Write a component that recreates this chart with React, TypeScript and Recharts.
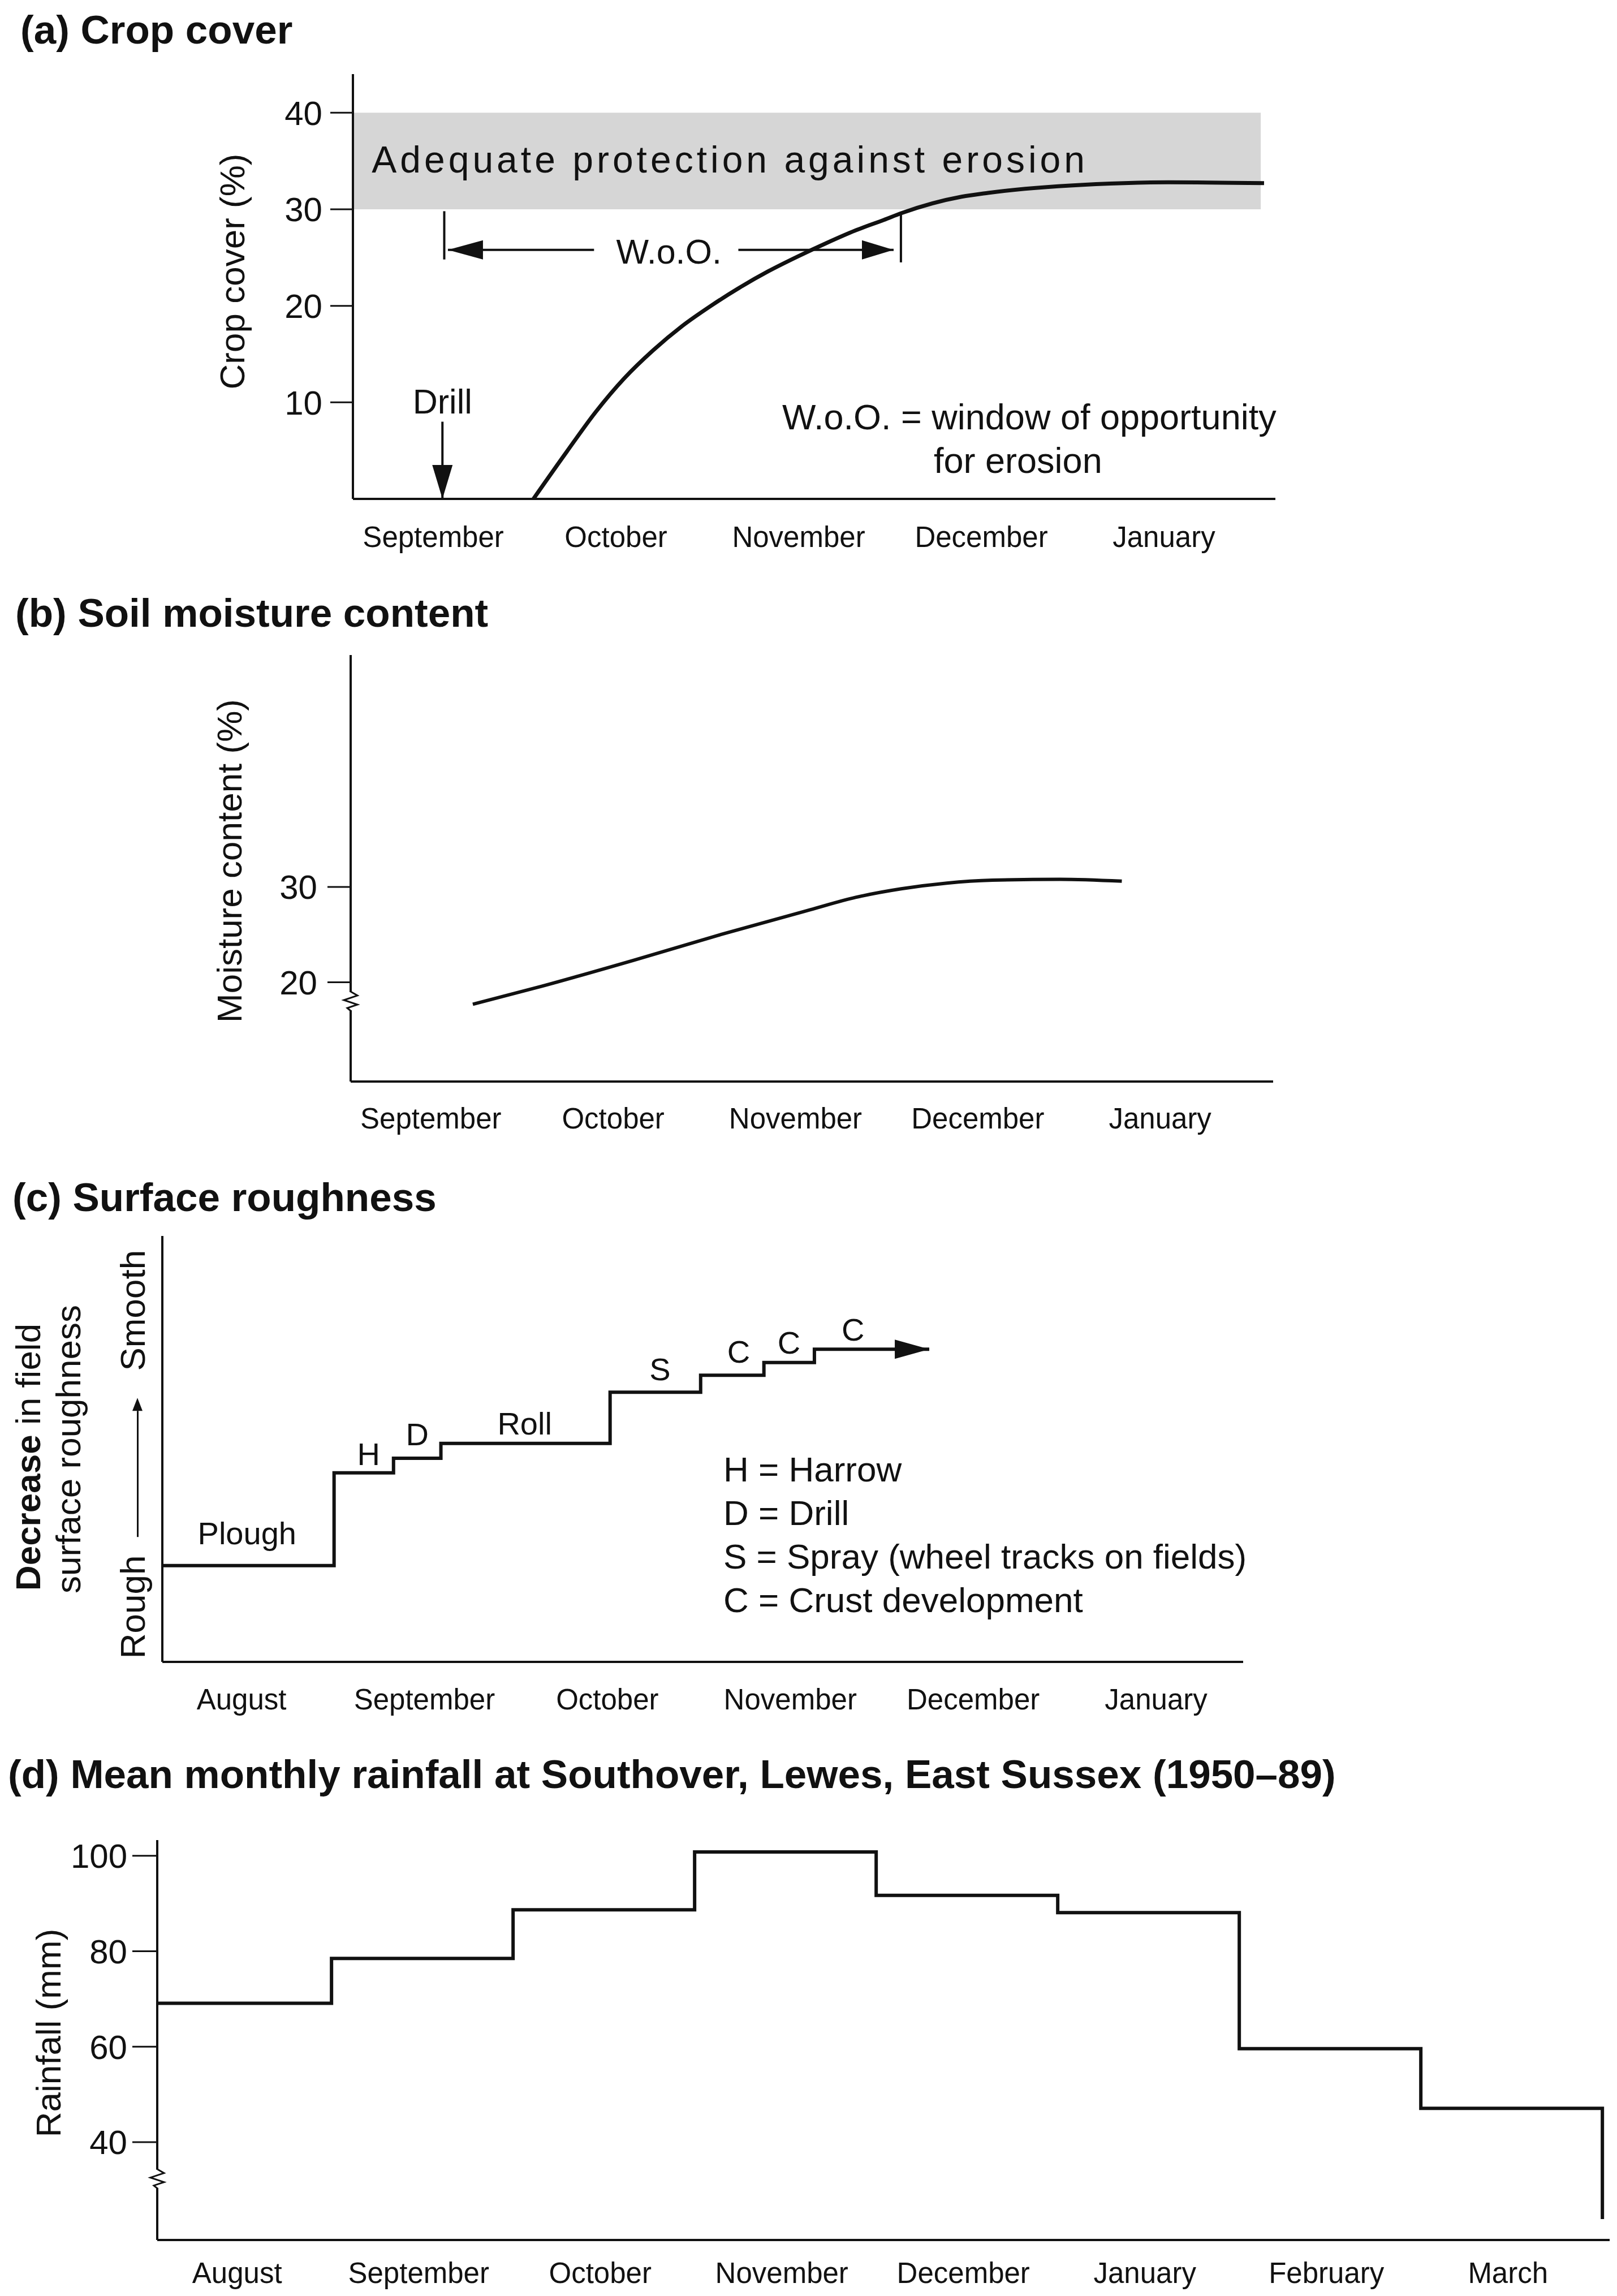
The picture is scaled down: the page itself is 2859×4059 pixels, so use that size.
import { ComposedChart, Line, ReferenceArea, Scatter, XAxis, YAxis } from "recharts";

const FONT = "'Liberation Sans', Arial, Helvetica, sans-serif";
const INK = "#111";
const AXIS = { stroke: INK, strokeWidth: 4 };
const MONTH_TICK = { fill: INK, fontSize: 51, fontFamily: FONT };

// (a) crop cover
const cropMonths = ["September", "October", "November", "December", "January"];
const cropTicks = [10, 20, 30, 40];
const cropCover = [
  { x: 1.048, y: 0 },
  { x: 1.231, y: 4.9 },
  { x: 1.389, y: 9.0 },
  { x: 1.546, y: 12.5 },
  { x: 1.704, y: 15.4 },
  { x: 1.862, y: 17.9 },
  { x: 2.02, y: 20.0 },
  { x: 2.178, y: 21.9 },
  { x: 2.336, y: 23.6 },
  { x: 2.494, y: 25.1 },
  { x: 2.652, y: 26.5 },
  { x: 2.81, y: 27.8 },
  { x: 2.967, y: 28.9 },
  { x: 3.063, y: 29.6 },
  { x: 3.392, y: 31.3 },
  { x: 3.537, y: 31.7 },
  { x: 4.128, y: 32.6 },
  { x: 4.525, y: 32.8 },
  { x: 5.048, y: 32.7 },
];
const drillArrow = [{ x: 0.55, y: 8 }, { x: 0.55, y: 0 }];
const wooLeftBar = [{ x: 0.56, y: 29.8 }, { x: 0.56, y: 24.8 }];
const wooRightBar = [{ x: 3.06, y: 29.6 }, { x: 3.06, y: 24.5 }];
const wooLeftArrow = [{ x: 1.38, y: 25.8 }, { x: 0.58, y: 25.8 }];
const wooRightArrow = [{ x: 2.17, y: 25.8 }, { x: 3.02, y: 25.8 }];
const bandNote = [{ x: 0.163, y: 33.8, text: "Adequate protection against erosion" }];
const cropNotesMid = [
  { x: 0.55, y: 8.85, text: "Drill" },
  { x: 1.79, y: 24.4, text: "W.o.O." },
];
const cropNotesLeft = [
  { x: 2.41, y: 7.2, text: "W.o.O. = window of opportunity" },
  { x: 3.24, y: 2.7, text: "for erosion" },
];

// (b) soil moisture
const moistMonths = ["September", "October", "November", "December", "January"];
const moistTicks = [17.9, 20, 30];
const moistBreak = 17.9;
const moisture = [
  { x: 0.73, y: 17.7 },
  { x: 1.11, y: 19.6 },
  { x: 1.61, y: 22.3 },
  { x: 2.09, y: 25.0 },
  { x: 2.58, y: 27.6 },
  { x: 2.83, y: 28.9 },
  { x: 3.08, y: 29.8 },
  { x: 3.33, y: 30.4 },
  { x: 3.58, y: 30.7 },
  { x: 3.95, y: 30.8 },
  { x: 4.29, y: 30.6 },
];

// (c) surface roughness
const roughMonths = ["August", "September", "October", "November", "December", "January"];
const roughness = [
  { x: 0.067, y: 22.6 },
  { x: 1.006, y: 44.4 },
  { x: 1.331, y: 47.8 },
  { x: 1.59, y: 51.3 },
  { x: 2.515, y: 63.3 },
  { x: 3.01, y: 67.3 },
  { x: 3.356, y: 70.3 },
  { x: 3.632, y: 73.4 },
  { x: 4.26, y: 73.4 },
];
const roughNotes = [
  { x: 0.53, y: 27.6, text: "Plough" },
  { x: 1.195, y: 46.2, text: "H" },
  { x: 1.461, y: 50.9, text: "D" },
  { x: 2.048, y: 53.4, text: "Roll" },
  { x: 2.788, y: 66.1, text: "S" },
  { x: 3.218, y: 70.3, text: "C" },
  { x: 3.493, y: 72.4, text: "C" },
  { x: 3.843, y: 75.4, text: "C" },
];
const roughKey = [
  "H = Harrow",
  "D = Drill",
  "S = Spray (wheel tracks on fields)",
  "C = Crust development",
];

// (d) rainfall
const rainMonths = ["August", "September", "October", "November", "December", "January", "February", "March"];
const rainTicks = [32.1, 40, 60, 80, 100];
const rainBreak = 32.1;
const rainfall = [
  { x: 0.04, y: 69.1 },
  { x: 1, y: 78.5 },
  { x: 2, y: 88.7 },
  { x: 3, y: 100.8 },
  { x: 4, y: 91.7 },
  { x: 5, y: 88.1 },
  { x: 6, y: 59.6 },
  { x: 7, y: 47.1 },
  { x: 8, y: 47.1 },
  { x: 8, y: 23.9 },
];

// y tick: short dash + number, or the axis break zigzag
const valueTick = (len: number, gap: number, breakAt?: number) => (p: any) => {
  const ax = p.x + len + gap;
  const y = p.y;
  if (p.payload.value === breakAt) {
    return (
      <g>
        <rect x={ax - 5} y={y - 18} width={10} height={32} fill="#fff" />
        <polyline
          points={`${ax},${y - 19} ${ax + 12},${y - 12} ${ax - 12},${y - 4} ${ax + 12},${y + 4} ${ax - 6},${y + 10} ${ax},${y + 15}`}
          fill="none"
          stroke={INK}
          strokeWidth={3}
        />
      </g>
    );
  }
  return (
    <g>
      <line x1={ax - len} x2={ax} y1={y} y2={y} stroke={INK} strokeWidth={3} />
      <text x={p.x} y={y} dy="0.355em" textAnchor="end" fontSize={60} fontFamily={FONT} fill={INK}>
        {p.payload.value}
      </text>
    </g>
  );
};

const arrowEnd = (dir: string, last: number, len: number, half: number) => (p: any) => {
  if (p.index !== last) return <g key={p.index} />;
  const { cx, cy } = p;
  let pts = "";
  if (dir === "down") pts = `${cx},${cy} ${cx - half},${cy - len} ${cx + half},${cy - len}`;
  if (dir === "left") pts = `${cx},${cy} ${cx + len},${cy - half} ${cx + len},${cy + half}`;
  if (dir === "right") pts = `${cx},${cy} ${cx - len},${cy - half} ${cx - len},${cy + half}`;
  return <polygon key={p.index} points={pts} fill={INK} />;
};

const note = (size: number, anchor: string, extra: any = {}) => (p: any) => (
  <text x={p.cx} y={p.cy} textAnchor={anchor} fontSize={size} fontFamily={FONT} fill={INK} {...extra}>
    {p.payload.text}
  </text>
);

function Title({ top, left, children }: any) {
  return (
    <div style={{ position: "absolute", top, left, fontSize: 71, fontWeight: 700, lineHeight: 1, whiteSpace: "nowrap" }}>
      {children}
    </div>
  );
}

function RotLabel({ x, y, children }: any) {
  return (
    <div
      style={{
        position: "absolute",
        left: x,
        top: y,
        transform: "translate(-50%,-50%) rotate(-90deg)",
        whiteSpace: "nowrap",
        fontSize: 62,
        lineHeight: 1,
        display: "flex",
        alignItems: "center",
      }}
    >
      {children}
    </div>
  );
}

export default function App() {
  return (
    <div
      style={{
        position: "absolute",
        left: 0,
        top: 0,
        width: 2859,
        height: 4059,
        background: "#fff",
        fontFamily: FONT,
        color: INK,
        overflow: "hidden",
      }}
    >
      {/* (a) */}
      <div style={{ position: "absolute", left: 0, top: 0 }}>
        <ComposedChart width={2859} height={1040} margin={{ top: 131, right: 604, bottom: 0, left: 0 }}>
          <XAxis
            type="number"
            dataKey="x"
            domain={[0.06, 5.11]}
            ticks={cropMonths.map((_, i) => i + 0.5)}
            tickFormatter={(v) => cropMonths[Math.floor(v)]}
            interval={0}
            tickLine={false}
            tickSize={0}
            tickMargin={49}
            height={158}
            axisLine={AXIS}
            tick={MONTH_TICK}
          />
          <YAxis
            type="number"
            domain={[0, 44]}
            ticks={cropTicks}
            interval={0}
            width={624}
            tickLine={false}
            tickSize={40}
            tickMargin={14}
            axisLine={AXIS}
            tick={valueTick(40, 14)}
          />
          <ReferenceArea x1={0.06} x2={5.03} y1={30} y2={40} fill="#d6d6d6" fillOpacity={1} stroke="none" />
          <Scatter data={bandNote} dataKey="y" shape={note(66, "start", { letterSpacing: 6 })} isAnimationActive={false} />
          <Line data={cropCover} dataKey="y" type="monotone" stroke={INK} strokeWidth={7} dot={false} activeDot={false} isAnimationActive={false} />
          <Line data={drillArrow} dataKey="y" type="linear" stroke={INK} strokeWidth={4} dot={arrowEnd("down", 1, 60, 18)} activeDot={false} isAnimationActive={false} />
          <Line data={wooLeftBar} dataKey="y" type="linear" stroke={INK} strokeWidth={4} dot={false} activeDot={false} isAnimationActive={false} />
          <Line data={wooRightBar} dataKey="y" type="linear" stroke={INK} strokeWidth={4} dot={false} activeDot={false} isAnimationActive={false} />
          <Line data={wooLeftArrow} dataKey="y" type="linear" stroke={INK} strokeWidth={4} dot={arrowEnd("left", 1, 62, 17)} activeDot={false} isAnimationActive={false} />
          <Line data={wooRightArrow} dataKey="y" type="linear" stroke={INK} strokeWidth={4} dot={arrowEnd("right", 1, 56, 17)} activeDot={false} isAnimationActive={false} />
          <Scatter data={cropNotesMid} dataKey="y" shape={note(61, "middle")} isAnimationActive={false} />
          <Scatter data={cropNotesLeft} dataKey="y" shape={note(63, "start")} isAnimationActive={false} />
        </ComposedChart>
      </div>

      {/* (b) */}
      <div style={{ position: "absolute", left: 0, top: 1040 }}>
        <ComposedChart width={2859} height={1000} margin={{ top: 118, right: 608, bottom: 0, left: 0 }}>
          <XAxis
            type="number"
            dataKey="x"
            domain={[0.06, 5.12]}
            ticks={moistMonths.map((_, i) => i + 0.5)}
            tickFormatter={(v) => moistMonths[Math.floor(v)]}
            interval={0}
            tickLine={false}
            tickSize={0}
            tickMargin={47}
            height={128}
            axisLine={AXIS}
            tick={MONTH_TICK}
          />
          <YAxis
            type="number"
            domain={[9.6, 54.3]}
            ticks={moistTicks}
            interval={0}
            width={620}
            tickLine={false}
            tickSize={41}
            tickMargin={18}
            axisLine={AXIS}
            tick={valueTick(41, 18, moistBreak)}
          />
          <Line data={moisture} dataKey="y" type="monotone" stroke={INK} strokeWidth={6} dot={false} activeDot={false} isAnimationActive={false} />
        </ComposedChart>
      </div>

      {/* (c) */}
      <div style={{ position: "absolute", left: 0, top: 2080 }}>
        <ComposedChart width={2859} height={1000} margin={{ top: 105, right: 661, bottom: 0, left: 0 }}>
          <XAxis
            type="number"
            dataKey="x"
            domain={[0.067, 5.976]}
            ticks={roughMonths.map((_, i) => i + 0.5)}
            tickFormatter={(v) => roughMonths[Math.floor(v)]}
            interval={0}
            tickLine={false}
            tickSize={0}
            tickMargin={48}
            height={142}
            axisLine={AXIS}
            tick={MONTH_TICK}
          />
          <YAxis type="number" domain={[0, 100]} width={287} tick={false} tickLine={false} axisLine={AXIS} />
          <Line
            data={roughness}
            dataKey="y"
            type="stepAfter"
            stroke={INK}
            strokeWidth={6}
            dot={arrowEnd("right", roughness.length - 1, 61, 17)}
            activeDot={false}
            isAnimationActive={false}
          />
          <Scatter data={roughNotes} dataKey="y" shape={note(56, "middle")} isAnimationActive={false} />
        </ComposedChart>
      </div>

      {/* (d) */}
      <div style={{ position: "absolute", left: 0, top: 3100 }}>
        <ComposedChart width={2859} height={959} margin={{ top: 153, right: 13, bottom: 0, left: 0 }}>
          <XAxis
            type="number"
            dataKey="x"
            domain={[0.04, 8.04]}
            ticks={rainMonths.map((_, i) => i + 0.48)}
            tickFormatter={(v) => rainMonths[Math.floor(v)]}
            interval={0}
            tickLine={false}
            tickSize={0}
            tickMargin={40}
            height={99}
            axisLine={AXIS}
            tick={MONTH_TICK}
          />
          <YAxis
            type="number"
            domain={[19.5, 103.3]}
            ticks={rainTicks}
            interval={0}
            width={278}
            tickLine={false}
            tickSize={44}
            tickMargin={9}
            axisLine={AXIS}
            tick={valueTick(44, 9, rainBreak)}
          />
          <Line data={rainfall} dataKey="y" type="stepAfter" stroke={INK} strokeWidth={6} dot={false} activeDot={false} isAnimationActive={false} />
        </ComposedChart>
      </div>

      <Title top={17} left={36}>(a) Crop cover</Title>
      <Title top={1048} left={27}>(b) Soil moisture content</Title>
      <Title top={2081} left={22}>(c) Surface roughness</Title>
      <Title top={3101} left={14}>(d) Mean monthly rainfall at Southover, Lewes, East Sussex (1950–89)</Title>

      <RotLabel x={411} y={480}>Crop cover (%)</RotLabel>
      <RotLabel x={406} y={1522}>Moisture content (%)</RotLabel>
      <RotLabel x={86} y={3594}>Rainfall (mm)</RotLabel>
      <RotLabel x={50} y={2576}>
        <b>Decrease</b>&nbsp;in field
      </RotLabel>
      <RotLabel x={121} y={2562}>surface roughness</RotLabel>
      <RotLabel x={235} y={2571}>
        <span>Rough</span>
        <span style={{ display: "inline-block", width: 223, height: 3, background: INK, marginLeft: 32, position: "relative", top: 8 }} />
        <span
          style={{
            display: "inline-block",
            width: 0,
            height: 0,
            borderLeft: `23px solid ${INK}`,
            borderTop: "9px solid transparent",
            borderBottom: "9px solid transparent",
            marginRight: 48,
            position: "relative",
            top: 8,
          }}
        />
        <span>Smooth</span>
      </RotLabel>

      <div style={{ position: "absolute", left: 1279, top: 2559, fontSize: 62, lineHeight: "77px", whiteSpace: "nowrap" }}>
        {roughKey.map((k) => (
          <div key={k}>{k}</div>
        ))}
      </div>
    </div>
  );
}
